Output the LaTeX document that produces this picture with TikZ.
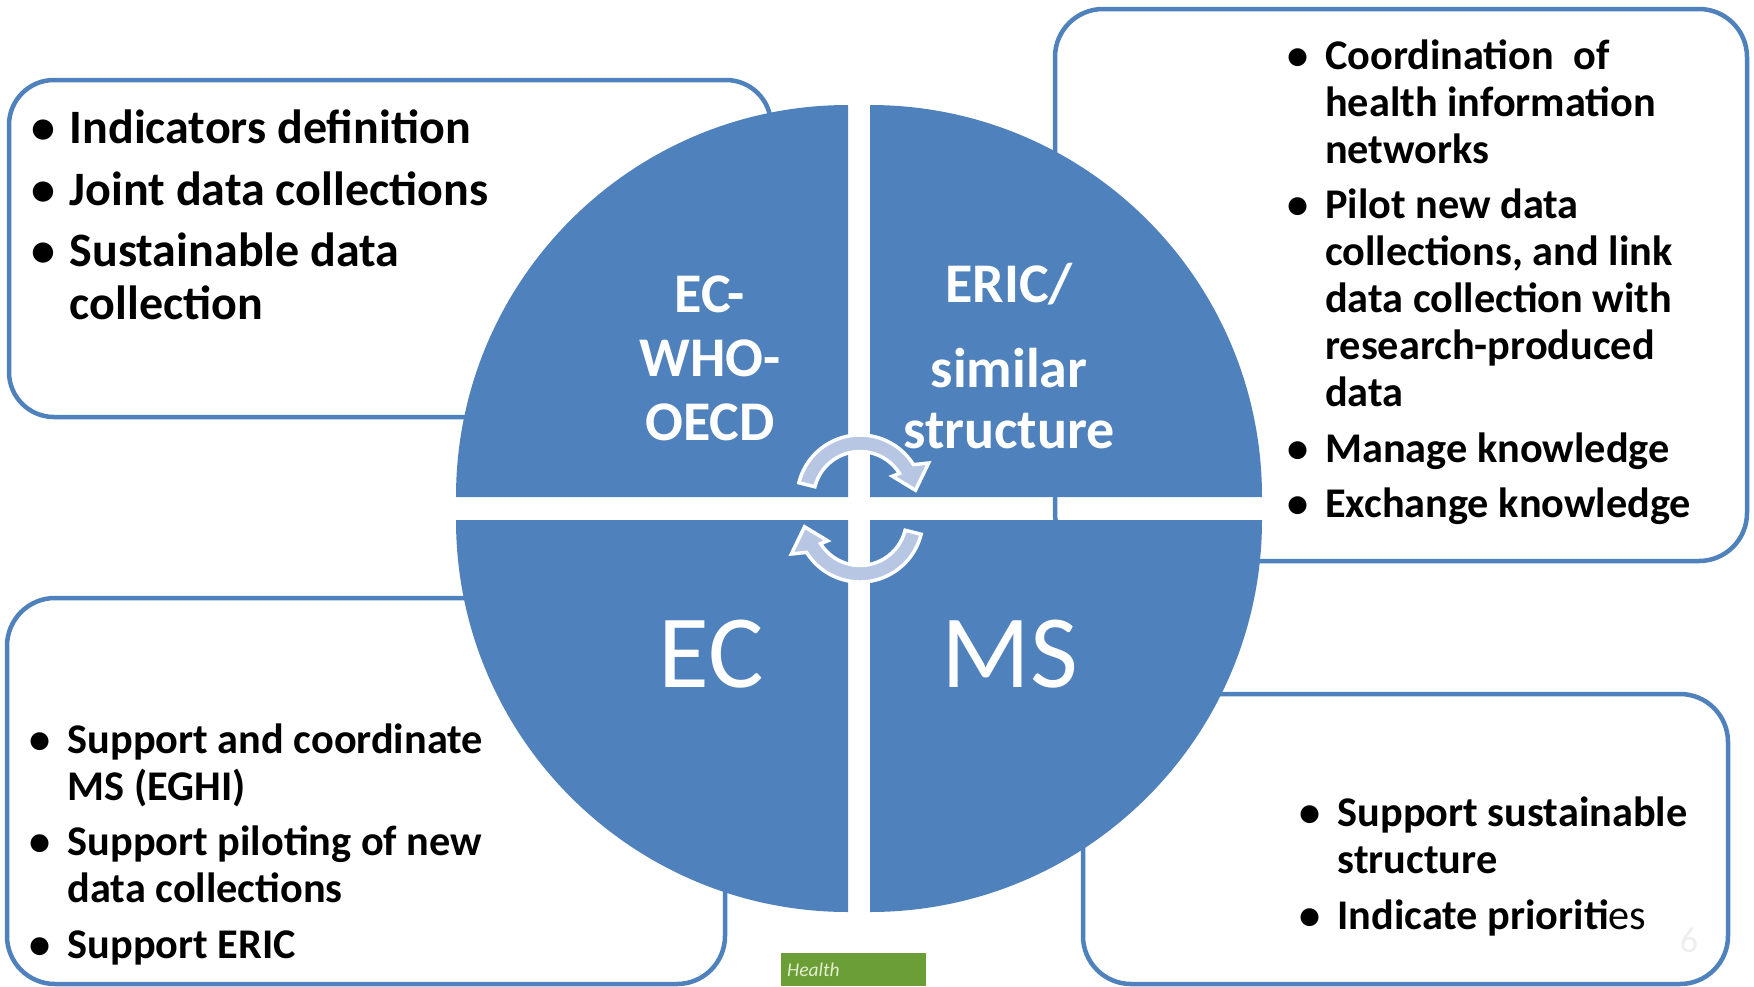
\documentclass[tikz,border=0pt]{standalone}
\usepackage{fontspec}
\setmainfont{Carlito}
\usetikzlibrary{positioning}

\definecolor{quadblue}{RGB}{79,129,189}
\definecolor{arrowfill}{RGB}{183,198,226}
\definecolor{healthgreen}{RGB}{108,158,56}
\definecolor{healthtext}{RGB}{226,238,206}
\definecolor{pagegray}{RGB}{238,238,238}

\newcommand{\itembul}{\makebox[38pt][l]{\textbullet}}
\newcommand{\itemcont}{\hspace*{38pt}}

\tikzset{
  cyclearrow/.pic={
    \filldraw[fill=arrowfill, draw=white, line width=3.5pt]
      (-166:63) arc[start angle=-166, end angle=-32, radius=63]
      -- (-27:77) -- (-8:56) -- (-34:39) -- (-32:46.5)
      arc[start angle=-32, end angle=-166, radius=46.5] -- cycle;
  }
}

\begin{document}
\begin{tikzpicture}[x=1pt, y=-1pt,
  box/.style={draw=quadblue, line width=4.5pt, rounded corners=48pt},
  quad/.style={fill=quadblue},
  items/.style={inner sep=0pt, anchor=north west, align=left,
    font=\fontsize{42.3}{47}\selectfont\bfseries},
  quadlabel/.style={inner sep=0pt, align=center, text=white},
  bignum/.style={inner sep=0pt, text=white, font=\fontsize{104}{104}\selectfont},
  healthtag/.style={fill=healthgreen, anchor=north west, inner sep=0pt,
    text width=145pt, minimum height=33pt, align=left, text=healthtext,
    font=\fontsize{19.5}{20}\selectfont\itshape},
  pagenum/.style={inner sep=0pt, text=pagegray, font=\fontsize{36}{36}\selectfont}]
    \useasboundingbox (0,0) rectangle (1754,986);
    \fill[white] (0,0) rectangle (1754,986);

    % boxes behind the circle
    \draw[box, rounded corners=45pt] (9,80) rectangle (771,417);
    \draw[box] (1055,9) rectangle (1747,561);
    \draw[box] (7,598) rectangle (725,984);
    \draw[box] (1083,694) rectangle (1728,984);

    % the four quarters
    \fill[quad] (848,497) -- (456,497) arc[start angle=-180, end angle=-90, radius=392] -- cycle;
    \fill[quad] (870,497) -- (870,105) arc[start angle=-90, end angle=0, radius=392] -- cycle;
    \fill[quad] (870,520) -- (1262,520) arc[start angle=0, end angle=90, radius=392] -- cycle;
    \fill[quad] (848,520) -- (848,912) arc[start angle=90, end angle=180, radius=392] -- cycle;

    \node[quadlabel, font=\fontsize{56}{64}\selectfont\bfseries] (ecwho) at (710,358) {EC-\\WHO-\\OECD};
    \node[quadlabel, font=\fontsize{56}{61}\selectfont\bfseries] (eric) at (1009,356) {ERIC/\\[24pt]similar\\structure};
    \node[bignum] (ec) at (711,654) {EC};
    \node[bignum, on grid] (ms) [right=299pt of ec] {MS};

    \pic at (860,498) {cyclearrow};
    \pic[rotate=180] at (860,519) {cyclearrow};

    \node[items, font=\fontsize{48}{53}\selectfont\bfseries] (tlitems) at (31.5,110)
      {\itembul Indicators definition\\[8.5pt]
       \itembul Joint data collections\\[8.5pt]
       \itembul Sustainable data\\
       \itemcont collection};
    \node[items] (tritems) at (1287,39.5)
      {\itembul Coordination~ of\\
       \itemcont health information\\
       \itemcont networks\\[8.5pt]
       \itembul Pilot new data\\
       \itemcont collections, and link\\
       \itemcont data collection with\\
       \itemcont research-produced\\
       \itemcont data\\[8.5pt]
       \itembul Manage knowledge\\[8.5pt]
       \itembul Exchange knowledge};
    \node[items] (blitems) at (29.5,723.5)
      {\itembul Support and coordinate\\
       \itemcont MS (EGHI)\\[8.5pt]
       \itembul Support piloting of new\\
       \itemcont data collections\\[8.5pt]
       \itembul Support ERIC};
    \node[items] (britems) at (1299.5,797)
      {\itembul Support sustainable\\
       \itemcont structure\\[8.5pt]
       \itembul Indicate prioriti\mdseries es};

    \node[healthtag] (health) at (781,953) {\hspace*{6pt}Health};
    \node[pagenum] (pnum) at (1689,940) {6};
\end{tikzpicture}
\end{document}
